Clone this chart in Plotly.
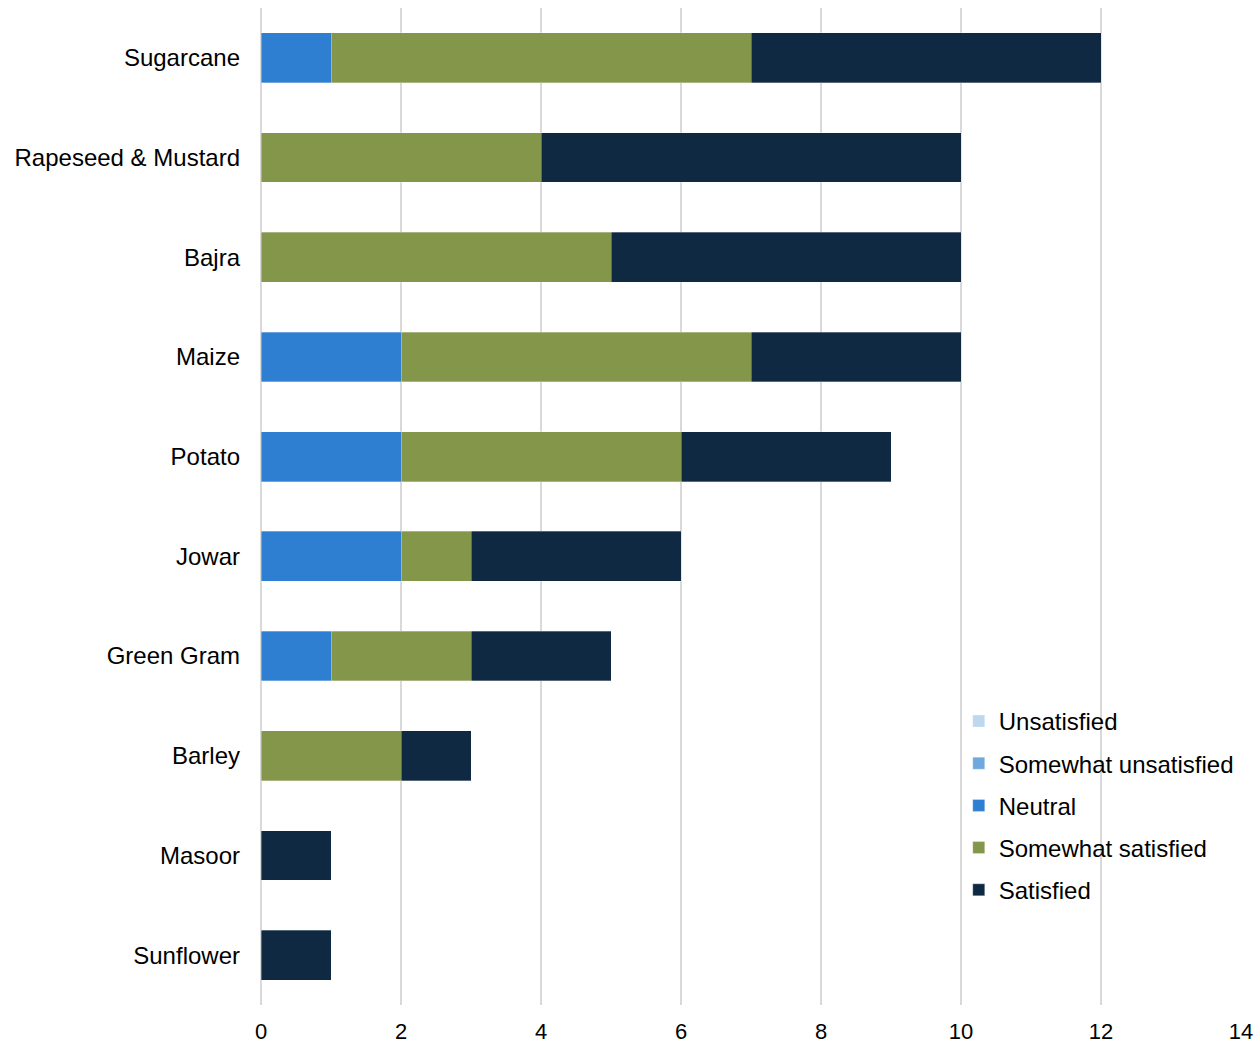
import plotly.graph_objects as go

crops = ["Sugarcane", "Rapeseed & Mustard", "Bajra", "Maize", "Potato",
         "Jowar", "Green Gram", "Barley", "Masoor", "Sunflower"]
unsatisfied = [0, 0, 0, 0, 0, 0, 0, 0, 0, 0]
somewhat_unsatisfied = [0, 0, 0, 0, 0, 0, 0, 0, 0, 0]
neutral = [1, 0, 0, 2, 2, 2, 1, 0, 0, 0]
somewhat_satisfied = [6, 4, 5, 5, 4, 1, 2, 2, 0, 0]
satisfied = [5, 6, 5, 3, 3, 3, 2, 1, 1, 1]

series = [
    ("Unsatisfied", unsatisfied, "#BDD7EE"),
    ("Somewhat unsatisfied", somewhat_unsatisfied, "#6FA8DC"),
    ("Neutral", neutral, "#2E7FD1"),
    ("Somewhat satisfied", somewhat_satisfied, "#84964A"),
    ("Satisfied", satisfied, "#0F2942"),
]

fig = go.Figure()
for name, vals, color in series:
    fig.add_trace(go.Bar(
        y=crops, x=vals, name=name, orientation="h",
        marker=dict(color=color, line=dict(color="rgba(255,255,255,0.6)", width=0.5)),
        legendgroup=name,
    ))

fig.update_layout(
    barmode="stack",
    bargap=0.5,
    width=1256, height=1045,
    margin=dict(l=261, r=15, t=8, b=40),
    plot_bgcolor="white", paper_bgcolor="white",
    font=dict(family="Liberation Sans, Arial, sans-serif", size=24, color="#000000"),
    legend=dict(x=0.712, y=0.307, xanchor="left", yanchor="top",
                traceorder="grouped", tracegroupgap=8,
                font=dict(size=24), itemwidth=30, bgcolor="rgba(0,0,0,0)"),
    xaxis=dict(range=[0, 14], dtick=2, showgrid=True, gridcolor="#D9D9D9", gridwidth=2,
               zeroline=True, zerolinecolor="#D9D9D9", zerolinewidth=2,
               tickfont=dict(size=22),
               ticklabelstandoff=11, showline=False, fixedrange=True, automargin=False),
    yaxis=dict(autorange="reversed", showgrid=False, ticklabelstandoff=20, showline=False,
               automargin=False),
)

fig.write_html("out.html")
